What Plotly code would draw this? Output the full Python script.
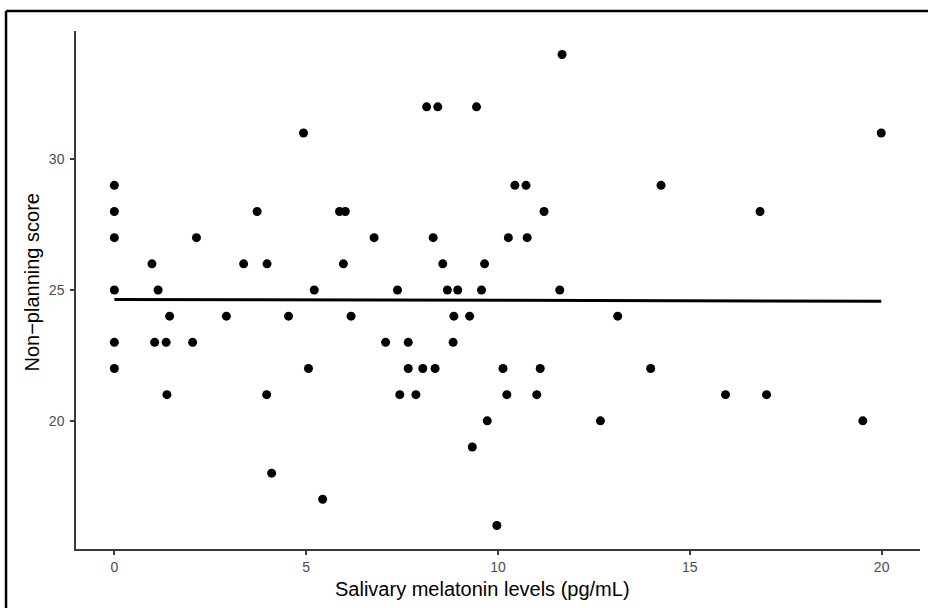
import plotly.graph_objects as go

# Salivary melatonin (pg/mL) and Non-planning score, grouped by score level
melatonin = [
    11.67,
    8.14, 8.43, 9.44,
    4.93, 19.99,
    0.0, 10.44, 10.73, 14.25,
    0.0, 3.72, 5.87, 6.02, 11.2, 16.83,
    0.0, 2.14, 6.77, 8.31, 10.27, 10.76,
    0.98, 3.37, 3.98, 5.97, 8.56, 9.65,
    0.0, 1.14, 5.21, 7.38, 8.68, 8.95, 9.57, 11.61,
    1.44, 2.92, 4.54, 6.17, 8.85, 9.26, 13.12,
    0.0, 1.05, 1.35, 2.04, 7.07, 7.66, 8.83,
    0.0, 5.06, 7.66, 8.04, 8.36, 10.13, 11.1, 13.98,
    1.37, 3.97, 7.44, 7.86, 10.23, 11.01, 15.93, 17.0,
    9.72, 12.67, 19.51,
    9.33,
    4.1,
    5.43,
    9.97,
]
score = [
    34,
    32, 32, 32,
    31, 31,
    29, 29, 29, 29,
    28, 28, 28, 28, 28, 28,
    27, 27, 27, 27, 27, 27,
    26, 26, 26, 26, 26, 26,
    25, 25, 25, 25, 25, 25, 25, 25,
    24, 24, 24, 24, 24, 24, 24,
    23, 23, 23, 23, 23, 23, 23,
    22, 22, 22, 22, 22, 22, 22, 22,
    21, 21, 21, 21, 21, 21, 21, 21,
    20, 20, 20,
    19,
    18,
    17,
    16,
]

# Linear fit
fit_x = [0.0, 19.99]
fit_intercept = 24.64
fit_slope = -0.0035
fit_y = [fit_intercept + fit_slope * v for v in fit_x]

x_ticks = [0, 5, 10, 15, 20]
y_ticks = [20, 25, 30]

x_title = "Salivary melatonin levels (pg/mL)"
y_title = "Non\u2212planning score"

FONT = "Liberation Sans, Arial, Helvetica, sans-serif"

fig = go.Figure()
fig.add_trace(go.Scatter(
    x=melatonin, y=score, mode="markers",
    marker=dict(color="black", size=9, line=dict(width=0)),
    showlegend=False, hoverinfo="x+y",
))
fig.add_trace(go.Scatter(
    x=fit_x, y=fit_y, mode="lines",
    line=dict(color="black", width=3),
    showlegend=False, hoverinfo="skip",
))

axis_common = dict(
    showgrid=False, zeroline=False, showline=True,
    linecolor="#3a3a3a", linewidth=1.5,
    ticks="outside", ticklen=4, tickwidth=1.5, tickcolor="#3a3a3a",
    tickfont=dict(family=FONT, size=14, color="#4d4d4d"),
)

fig.update_xaxes(
    range=[-1.0, 21.0], tickvals=x_ticks, ticktext=[str(t) for t in x_ticks],
    **axis_common,
)
fig.update_yaxes(
    range=[15.1, 34.9], tickvals=y_ticks, ticktext=[str(t) for t in y_ticks],
    ticklabelstandoff=3,
    **axis_common,
)

fig.update_layout(
    width=928, height=608,
    margin=dict(l=76, r=8, t=31, b=59),
    paper_bgcolor="white", plot_bgcolor="white",
    annotations=[
        dict(text=x_title, xref="paper", yref="paper", x=0.4816, y=-0.0772,
             xanchor="center", yanchor="middle", showarrow=False,
             font=dict(family=FONT, size=20, color="black")),
        dict(text=y_title, xref="paper", yref="paper", x=-0.0521, y=0.5145,
             xanchor="center", yanchor="middle", showarrow=False, textangle=-90,
             font=dict(family=FONT, size=20, color="black")),
    ],
    shapes=[
        dict(type="line", xref="paper", yref="paper",
             x0=-0.0829, x1=1.2, y0=1.0386, y1=1.0386,
             line=dict(color="black", width=2.5)),
        dict(type="line", xref="paper", yref="paper",
             x0=-0.0829, x1=-0.0829, y0=1.0386, y1=-0.2,
             line=dict(color="black", width=2.5)),
    ],
)

fig.write_html("out.html", config={"displayModeBar": False},
               post_script="document.body.style.margin='0';")
